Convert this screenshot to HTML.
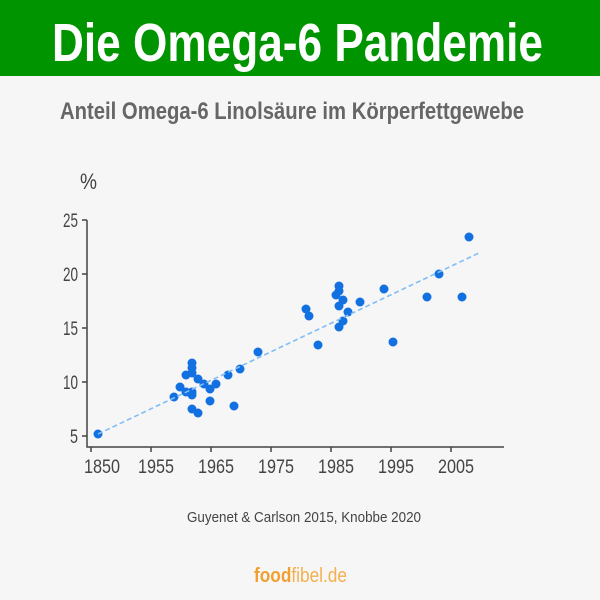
<!DOCTYPE html>
<html><head><meta charset="utf-8"><style>html,body{margin:0;padding:0;background:#f6f6f6}svg{display:block}</style></head>
<body>
<svg width="600" height="600" viewBox="0 0 600 600" xmlns="http://www.w3.org/2000/svg" font-family="Liberation Sans Narrow, Liberation Sans, sans-serif">
<rect width="600" height="600" fill="#f6f6f6"/>
<rect width="600" height="76" fill="#009400"/>
<text x="52" y="61" font-size="54" font-weight="bold" fill="#fff" textLength="491" lengthAdjust="spacingAndGlyphs">Die Omega-6 Pandemie</text>
<text x="60" y="119" font-size="24" font-weight="bold" fill="#666" textLength="464" lengthAdjust="spacingAndGlyphs">Anteil Omega-6 Linolsäure im Körperfettgewebe</text>
<text x="80" y="189" font-size="22" fill="#444" textLength="17" lengthAdjust="spacingAndGlyphs">%</text>
<g stroke="#444" stroke-width="1.5" fill="none">
<path d="M87 220V447H504"/>
<path d="M82 220H87M82 274H87M82 328H87M82 382H87M82 436H87"/>
<path d="M91 447v5M151 447v5M211 447v5M271 447v5M331 447v5M391 447v5M451 447v5"/>
</g>
<g font-size="19" fill="#444">
<text x="63" y="227" textLength="15" lengthAdjust="spacingAndGlyphs">25</text>
<text x="63" y="281" textLength="15" lengthAdjust="spacingAndGlyphs">20</text>
<text x="63" y="335" textLength="15" lengthAdjust="spacingAndGlyphs">15</text>
<text x="63" y="389" textLength="15" lengthAdjust="spacingAndGlyphs">10</text>
<text x="70" y="443" textLength="8" lengthAdjust="spacingAndGlyphs">5</text>
</g>
<g font-size="19" fill="#444">
<text x="84" y="473" textLength="36" lengthAdjust="spacingAndGlyphs">1850</text>
<text x="138" y="473" textLength="36" lengthAdjust="spacingAndGlyphs">1955</text>
<text x="198" y="473" textLength="36" lengthAdjust="spacingAndGlyphs">1965</text>
<text x="258" y="473" textLength="36" lengthAdjust="spacingAndGlyphs">1975</text>
<text x="318" y="473" textLength="36" lengthAdjust="spacingAndGlyphs">1985</text>
<text x="378" y="473" textLength="36" lengthAdjust="spacingAndGlyphs">1995</text>
<text x="438" y="473" textLength="36" lengthAdjust="spacingAndGlyphs">2005</text>
</g>
<g fill="#1270e0">
<circle cx="98" cy="434" r="4.5"/><circle cx="174" cy="397" r="4.5"/><circle cx="180" cy="387" r="4.5"/><circle cx="186" cy="375" r="4.5"/><circle cx="192" cy="363" r="4.5"/><circle cx="192" cy="368" r="4.5"/><circle cx="192" cy="373" r="4.5"/><circle cx="186" cy="392" r="4.5"/><circle cx="192" cy="392" r="4.5"/><circle cx="192" cy="395" r="4.5"/><circle cx="198" cy="379" r="4.5"/><circle cx="204" cy="384" r="4.5"/><circle cx="210" cy="389" r="4.5"/><circle cx="216" cy="384" r="4.5"/><circle cx="192" cy="409" r="4.5"/><circle cx="198" cy="413" r="4.5"/><circle cx="210" cy="401" r="4.5"/><circle cx="228" cy="375" r="4.5"/><circle cx="240" cy="369" r="4.5"/><circle cx="234" cy="406" r="4.5"/><circle cx="258" cy="352" r="4.5"/><circle cx="306" cy="309" r="4.5"/><circle cx="309" cy="316" r="4.5"/><circle cx="318" cy="345" r="4.5"/><circle cx="336" cy="295" r="4.5"/><circle cx="339" cy="286" r="4.5"/><circle cx="339" cy="291" r="4.5"/><circle cx="343" cy="300" r="4.5"/><circle cx="339" cy="306" r="4.5"/><circle cx="343" cy="321" r="4.5"/><circle cx="339" cy="327" r="4.5"/><circle cx="348" cy="312" r="4.5"/><circle cx="360" cy="302" r="4.5"/><circle cx="384" cy="289" r="4.5"/><circle cx="393" cy="342" r="4.5"/><circle cx="427" cy="297" r="4.5"/><circle cx="439" cy="274" r="4.5"/><circle cx="462" cy="297" r="4.5"/><circle cx="469" cy="237" r="4.5"/>
</g>
<line x1="98" y1="434" x2="481" y2="252" stroke="#80bdf5" stroke-width="1.6" stroke-dasharray="5,3"/>
<text x="187" y="522" font-size="15" fill="#444" textLength="234" lengthAdjust="spacingAndGlyphs">Guyenet &amp; Carlson 2015, Knobbe 2020</text>
<text x="254" y="582" font-size="20" fill="#f0a030" textLength="93" lengthAdjust="spacingAndGlyphs"><tspan font-weight="bold">food</tspan><tspan fill="#f3b04e">fibel.de</tspan></text>
</svg>
</body></html>
